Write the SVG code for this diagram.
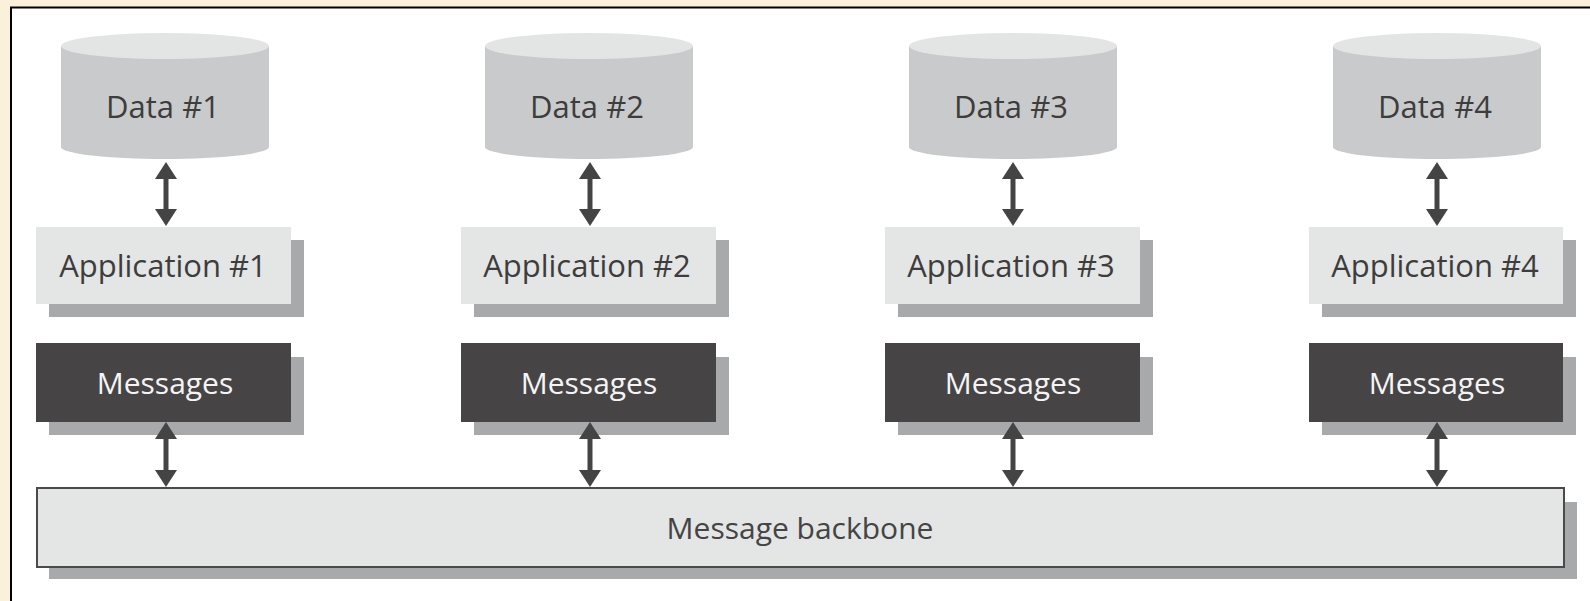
<svg xmlns="http://www.w3.org/2000/svg" width="1590" height="601" viewBox="0 0 1590 601">
  <style>
    .lbl { font-family: "Open Sans", "Liberation Sans", sans-serif; text-anchor: middle; }
    .dark-txt { fill: #3d3d3d; font-size: 31px; }
    .light-txt { fill: #f4f4f4; font-size: 30px; }
    .bb-txt { fill: #444444; font-size: 30px; }
    .cyl-body { fill: #c9cacb; }
    .cyl-top { fill: #e3e4e4; }
    .shadow { fill: #a8a9ab; }
    .app { fill: #e4e5e5; }
    .msg { fill: #474446; }
    .backbone { fill: #e4e5e5; stroke: #4a4a4a; stroke-width: 2; }
    .link { stroke: #444444; stroke-width: 5; fill: none; marker-start: url(#head); marker-end: url(#head); }
  </style>
  <defs>
    <marker id="head" viewBox="0 0 17 22" refX="7" refY="11" markerWidth="17" markerHeight="22" markerUnits="userSpaceOnUse" orient="auto-start-reverse">
      <path d="M0,0 L17,11 L0,22 Z" fill="#444444"/>
    </marker>
  </defs>

  <!-- page background and frame -->
  <rect x="0" y="0" width="1590" height="601" fill="#fbf1da"/>
  <rect x="11" y="7.5" width="1600" height="620" fill="#ffffff" stroke="#000000" stroke-width="2"/>

  <!-- column 1 -->
  <g id="data1">
    <path class="cyl-body" d="M61,46 L61,147 A104,12 0 0 0 269,147 L269,46 Z"/>
    <ellipse class="cyl-top" cx="165" cy="46" rx="104" ry="13"/>
    <text class="lbl dark-txt" x="163" y="118">Data #1</text>
  </g>
  <g id="app1">
    <rect class="shadow" x="49" y="240" width="255" height="77"/>
    <rect class="app" x="36" y="227" width="255" height="77"/>
    <text class="lbl dark-txt" x="163" y="277">Application #1</text>
  </g>
  <g id="msg1">
    <rect class="shadow" x="49" y="357" width="255" height="78"/>
    <rect class="msg" x="36" y="343" width="255" height="79"/>
    <text class="lbl light-txt" x="165" y="394">Messages</text>
  </g>

  <!-- column 2 -->
  <g id="data2">
    <path class="cyl-body" d="M485,46 L485,147 A104,12 0 0 0 693,147 L693,46 Z"/>
    <ellipse class="cyl-top" cx="589" cy="46" rx="104" ry="13"/>
    <text class="lbl dark-txt" x="587" y="118">Data #2</text>
  </g>
  <g id="app2">
    <rect class="shadow" x="474" y="240" width="255" height="77"/>
    <rect class="app" x="461" y="227" width="255" height="77"/>
    <text class="lbl dark-txt" x="587" y="277">Application #2</text>
  </g>
  <g id="msg2">
    <rect class="shadow" x="474" y="357" width="255" height="78"/>
    <rect class="msg" x="461" y="343" width="255" height="79"/>
    <text class="lbl light-txt" x="589" y="394">Messages</text>
  </g>

  <!-- column 3 -->
  <g id="data3">
    <path class="cyl-body" d="M909,46 L909,147 A104,12 0 0 0 1117,147 L1117,46 Z"/>
    <ellipse class="cyl-top" cx="1013" cy="46" rx="104" ry="13"/>
    <text class="lbl dark-txt" x="1011" y="118">Data #3</text>
  </g>
  <g id="app3">
    <rect class="shadow" x="898" y="240" width="255" height="77"/>
    <rect class="app" x="885" y="227" width="255" height="77"/>
    <text class="lbl dark-txt" x="1011" y="277">Application #3</text>
  </g>
  <g id="msg3">
    <rect class="shadow" x="898" y="357" width="255" height="78"/>
    <rect class="msg" x="885" y="343" width="255" height="79"/>
    <text class="lbl light-txt" x="1013" y="394">Messages</text>
  </g>

  <!-- column 4 -->
  <g id="data4">
    <path class="cyl-body" d="M1333,46 L1333,147 A104,12 0 0 0 1541,147 L1541,46 Z"/>
    <ellipse class="cyl-top" cx="1437" cy="46" rx="104" ry="13"/>
    <text class="lbl dark-txt" x="1435" y="118">Data #4</text>
  </g>
  <g id="app4">
    <rect class="shadow" x="1322" y="240" width="254" height="77"/>
    <rect class="app" x="1309" y="227" width="254" height="77"/>
    <text class="lbl dark-txt" x="1435" y="277">Application #4</text>
  </g>
  <g id="msg4">
    <rect class="shadow" x="1322" y="357" width="254" height="78"/>
    <rect class="msg" x="1309" y="343" width="254" height="79"/>
    <text class="lbl light-txt" x="1437" y="394">Messages</text>
  </g>

  <!-- shared bus -->
  <g id="backbone">
    <rect class="shadow" x="49" y="502" width="1528" height="77"/>
    <rect class="backbone" x="37" y="488" width="1527" height="79"/>
    <text class="lbl bb-txt" x="800" y="539">Message backbone</text>
  </g>

  <!-- two-way links -->
  <g id="connectors">
    <line class="link" x1="166" y1="172" x2="166" y2="216"/>
    <line class="link" x1="166" y1="432" x2="166" y2="477"/>
    <line class="link" x1="590" y1="172" x2="590" y2="216"/>
    <line class="link" x1="590" y1="432" x2="590" y2="477"/>
    <line class="link" x1="1013" y1="172" x2="1013" y2="216"/>
    <line class="link" x1="1013" y1="432" x2="1013" y2="477"/>
    <line class="link" x1="1437" y1="172" x2="1437" y2="216"/>
    <line class="link" x1="1437" y1="432" x2="1437" y2="477"/>
  </g>
</svg>
